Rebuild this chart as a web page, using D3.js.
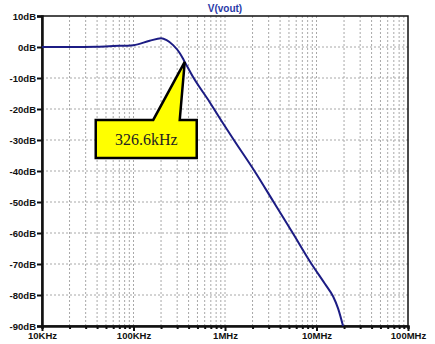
<!DOCTYPE html>
<html>
<head>
<meta charset="utf-8">
<script src="https://cdn.jsdelivr.net/npm/d3@7"></script>
<style>
	body { margin: 0; background: #fff; }
	svg { display: block; }
	.lbl { font-family: "Liberation Sans", Arial, sans-serif; font-size: 9.5px; font-weight: bold; fill: #111; }
</style>
</head>
<body>
<svg id="canvas" width="435" height="344"></svg>
<script>
// frequency response of V(vout)
var freqs = [1e4, 2e4, 4e4, 6e4, 1e5, 1.5e5, 2e5, 2.3e5, 2.71e5, 3.21e5, 3.63e5, 4.48e5, 6.81e5, 9.51e5, 1.25e6, 2.1e6, 3.4e6, 5.5e6, 8.83e6, 1.23e7, 1.52e7, 1.72e7, 1.95e7];
var gains = [0, 0, 0.1, 0.3, 0.6, 2.0, 2.8, 2.2, 0.6, -2.0, -4.8, -9.7, -17.8, -24.6, -30, -40, -50, -60, -70, -76.3, -80.5, -84.3, -90];

var yTicks = [10, 0, -10, -20, -30, -40, -50, -60, -70, -80, -90];
var xDecades = [1e4, 1e5, 1e6, 1e7, 1e8];
var xLabels = ["10KHz", "100KHz", "1MHz", "10MHz", "100MHz"];

var markerFreq = 3.63e5;   // where the callout tip touches the trace
var markerGain = -4.8;
var markerText = "326.6kHz";
var title = "V(vout)";

var svg = d3.select("#canvas");
var pLeft = 42, pRight = 408, pTop = 16, pBottom = 326;

var x = d3.scaleLog().domain([1e4, 1e8]).range([pLeft, pRight]);
var y = d3.scaleLinear().domain([-90, 10]).range([pBottom, pTop]);

// all 1..9 multiples for the vertical grid
var minor = [];
for (var d = 0; d < 4; d++)
	for (var m = 1; m < 10; m++)
		minor.push(xDecades[d] * m);
minor.push(1e8);

var grid = svg.append("g");
grid.selectAll("line.v")
	.data(minor.filter(function(f){ return f > 1e4 && f < 1e8; }))
	.enter().append("line")
	.attr("x1", function(f){ return x(f); })
	.attr("x2", function(f){ return x(f); })
	.attr("y1", pTop).attr("y2", pBottom)
	.attr("style", "stroke:#a8a8a8; stroke-width:1; stroke-dasharray:2,2;");
grid.selectAll("line.h")
	.data(yTicks.filter(function(t){ return t > -90 && t < 10; }))
	.enter().append("line")
	.attr("x1", pLeft).attr("x2", pRight)
	.attr("y1", function(t){ return y(t); })
	.attr("y2", function(t){ return y(t); })
	.attr("style", "stroke:#a8a8a8; stroke-width:1; stroke-dasharray:2,2;");

// frame
svg.append("rect")
	.attr("x", pLeft).attr("y", pTop)
	.attr("width", pRight - pLeft).attr("height", pBottom - pTop)
	.attr("style", "fill:none; stroke:#111; stroke-width:1.5;");

// left axis
var yAxis = d3.axisLeft(y).tickValues(yTicks).tickSize(5).tickPadding(1)
	.tickFormat(function(t){ return t + "dB"; });
var ga = svg.append("g").attr("transform", "translate(" + pLeft + ",0)").call(yAxis);
ga.select(".domain").attr("stroke-width", 2.5).attr("stroke", "#111");
ga.selectAll(".tick line").attr("stroke-width", 2).attr("stroke", "#111");
ga.selectAll("text").attr("class", "lbl").attr("font-family", null).attr("font-size", null);

// bottom axis
var xAxis = d3.axisBottom(x).tickValues(minor).tickSize(3).tickPadding(4)
	.tickFormat(function(f){
		var i = xDecades.indexOf(f);
		return i >= 0 ? xLabels[i] : "";
	});
var gb = svg.append("g").attr("transform", "translate(0," + pBottom + ")").call(xAxis);
gb.select(".domain").attr("stroke-width", 2.5).attr("stroke", "#111");
gb.selectAll(".tick line").attr("stroke-width", 2).attr("stroke", "#111")
	.attr("y2", function(f){ return xDecades.indexOf(f) >= 0 ? 5 : 3; });
gb.selectAll("text").attr("class", "lbl").attr("font-family", null).attr("font-size", null).attr("dy", "0.6em");

// title
svg.append("text")
	.attr("x", (pLeft + pRight) / 2).attr("y", 12)
	.attr("text-anchor", "middle")
	.attr("style", "font-family:'Liberation Sans', Arial, sans-serif; font-size:10px; font-weight:bold; fill:#2a3aa8;")
	.text(title);

// curve
var pts = freqs.map(function(f, i){ return [x(f), y(gains[i])]; });
svg.append("path")
	.attr("d", d3.line().curve(d3.curveMonotoneX)(pts))
	.attr("style", "fill:none; stroke:#1c1c84; stroke-width:2; stroke-linejoin:round;");

// callout
var mx = x(markerFreq), my = y(markerGain);
var box = [mx - 89, my + 58, mx + 12, my + 96];
var callout = [
	[box[0], box[1]], [mx - 31.5, box[1]], [mx, my], [mx - 5, box[1]],
	[box[2], box[1]], [box[2], box[3]], [box[0], box[3]]
];
svg.append("path")
	.attr("d", d3.line()(callout) + "Z")
	.attr("style", "fill:#ffff00; stroke:#000; stroke-width:2.5; stroke-linejoin:miter;");
svg.append("text")
	.attr("x", (box[0] + box[2]) / 2).attr("y", box[1] + 25)
	.attr("text-anchor", "middle")
	.attr("style", "font-family:'Liberation Serif', 'Times New Roman', serif; font-size:16px; fill:#222;")
	.text(markerText);
</script>
</body>
</html>
